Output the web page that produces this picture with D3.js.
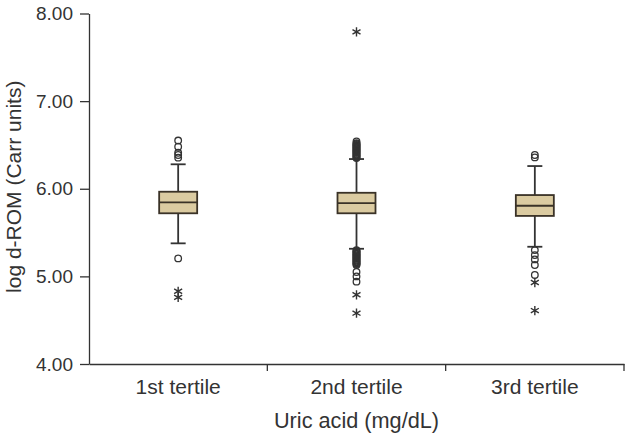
<!DOCTYPE html>
<html>
<head>
<meta charset="utf-8">
<script src="https://cdn.jsdelivr.net/npm/d3@7"></script>
<style>
  body { margin: 0; background: #fff; }
  text { font-family: "Liberation Sans", Arial, sans-serif; fill: #333; }
</style>
</head>
<body>
<div id="chart"></div>
<script>
// data
const categories = ["1st tertile", "2nd tertile", "3rd tertile"];
const q1 = [5.72, 5.72, 5.69];
const medians = [5.845, 5.837, 5.806];
const q3 = [5.966, 5.954, 5.928];
const whiskerLow = [5.377, 5.315, 5.338];
const whiskerHigh = [6.279, 6.339, 6.259];
// mild outliers (circles)
const circles1 = [6.55, 6.48, 6.41, 6.385, 6.355, 5.205];
const circles2 = [6.35, 6.36, 6.37, 6.38, 6.39, 6.40, 6.41, 6.42, 6.43, 6.44, 6.45, 6.46,
  6.47, 6.48, 6.49, 6.50, 6.51, 6.52, 6.54,
  5.30, 5.29, 5.28, 5.27, 5.26, 5.25, 5.24, 5.23, 5.22, 5.21, 5.20, 5.19, 5.18, 5.17,
  5.16, 5.15, 5.14, 5.13, 5.05, 5.00, 4.94];
const circles3 = [6.385, 6.358, 5.30, 5.243, 5.194, 5.13, 5.016];
// extreme outliers (stars)
const stars1 = [4.83, 4.76];
const stars2 = [7.79, 4.79, 4.58];
const stars3 = [4.93, 4.61];
const yTicks = [4, 5, 6, 7, 8];

const circleSets = [circles1, circles2, circles3];
const starSets = [stars1, stars2, stars3];

const width = 630, height = 437;
const svg = d3.select("#chart").append("svg")
  .attr("width", width)
  .attr("height", height);

const y = d3.scaleLinear().domain([4, 8]).range([364, 13.5]);
const x = d3.scaleBand().domain(categories).range([89, 624]);
const boxW = 38, capW = 15;

const ink = "#333";

// Y axis
const yAxis = svg.append("g")
  .attr("transform", "translate(89,0)")
  .call(d3.axisLeft(y).tickValues(yTicks).tickFormat(d3.format(".2f"))
    .tickSize(9).tickSizeOuter(0).tickPadding(7));
yAxis.selectAll("path, line").attr("stroke", ink).attr("stroke-width", 1.3);
yAxis.selectAll("text").style("font-size", "19px").attr("fill", ink);

// X axis
const xAxis = svg.append("g")
  .attr("transform", "translate(0,364)")
  .call(d3.axisBottom(x).tickSize(0).tickSizeOuter(0).tickPadding(15));
xAxis.select("path").attr("stroke", ink).attr("stroke-width", 1.3);
xAxis.selectAll("text").style("font-size", "21px").attr("fill", ink);
xAxis.selectAll(".sep").data(categories).join("line")
  .attr("class", "sep")
  .attr("x1", d => x(d) + x.bandwidth()).attr("x2", d => x(d) + x.bandwidth())
  .attr("y1", 0).attr("y2", 7)
  .attr("stroke", ink).attr("stroke-width", 1.3);

// axis titles
svg.append("text")
  .attr("transform", `translate(21,${(y(4) + y(8)) / 2 - 2}) rotate(-90)`)
  .attr("text-anchor", "middle")
  .style("font-size", "21px")
  .text("log d-ROM (Carr units)");
svg.append("text")
  .attr("x", (x.range()[0] + x.range()[1]) / 2)
  .attr("y", 428)
  .attr("text-anchor", "middle")
  .style("font-size", "21.7px")
  .text("Uric acid (mg/dL)");

// boxes
const boxes = svg.append("g");
categories.forEach((c, i) => {
  const cx = x(c) + x.bandwidth() / 2;
  const g = boxes.append("g");
  // whiskers
  g.append("line").attr("x1", cx).attr("x2", cx)
    .attr("y1", y(q3[i])).attr("y2", y(whiskerHigh[i]));
  g.append("line").attr("x1", cx).attr("x2", cx)
    .attr("y1", y(q1[i])).attr("y2", y(whiskerLow[i]));
  g.append("line").attr("x1", cx - capW / 2).attr("x2", cx + capW / 2)
    .attr("y1", y(whiskerHigh[i])).attr("y2", y(whiskerHigh[i]));
  g.append("line").attr("x1", cx - capW / 2).attr("x2", cx + capW / 2)
    .attr("y1", y(whiskerLow[i])).attr("y2", y(whiskerLow[i]));
  g.selectAll("line").attr("stroke", ink).attr("stroke-width", 1.8);
  // box
  g.append("rect")
    .attr("x", cx - boxW / 2).attr("width", boxW)
    .attr("y", y(q3[i])).attr("height", y(q1[i]) - y(q3[i]))
    .attr("fill", "#dbcba1").attr("stroke", "#3a3227").attr("stroke-width", 1.8);
  g.append("line")
    .attr("x1", cx - boxW / 2).attr("x2", cx + boxW / 2)
    .attr("y1", y(medians[i])).attr("y2", y(medians[i]))
    .attr("stroke", "#3a3227").attr("stroke-width", 1.8);

  g.selectAll("circle").data(circleSets[i]).join("circle")
    .attr("cx", cx).attr("cy", d => y(d)).attr("r", 3.3)
    .attr("fill", "none").attr("stroke", ink).attr("stroke-width", 1.3);

  g.selectAll(".star").data(starSets[i]).join("path")
    .attr("class", "star")
    .attr("transform", d => `translate(${cx},${y(d)})`)
    .attr("d", d3.symbol(d3.symbolAsterisk, 60))
    .attr("fill", "none").attr("stroke", ink).attr("stroke-width", 1.4);
});
</script>
</body>
</html>
